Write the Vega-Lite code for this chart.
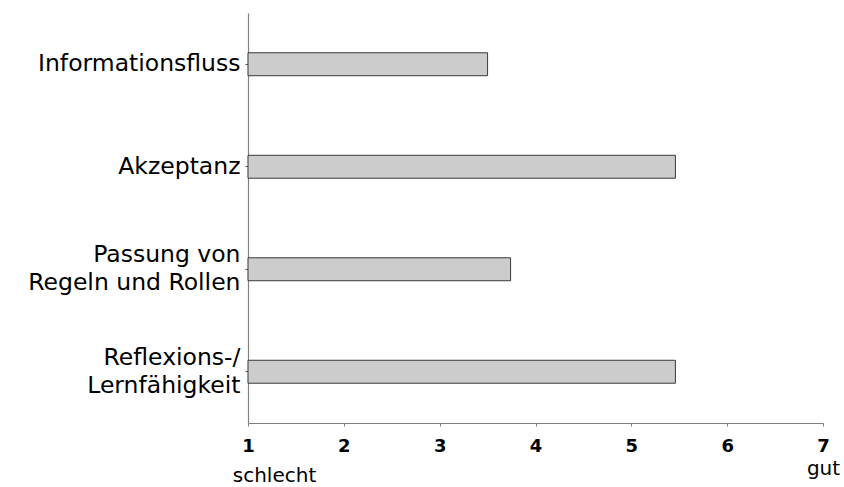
{
  "$schema": "https://vega.github.io/schema/vega-lite/v6.json",
  "autosize": {"type": "none"},
  "width": 575,
  "height": 410,
  "padding": {"left": 248, "top": 13, "right": 21, "bottom": 64},
  "background": "white",
  "config": {"view": {"stroke": null}},
  "data": {
    "values": [
      {"kriterium": "Informationsfluss", "wert": 3.5},
      {"kriterium": "Akzeptanz", "wert": 5.46},
      {"kriterium": "Passung von\nRegeln und Rollen", "wert": 3.74},
      {"kriterium": "Reflexions-/\nLernfähigkeit", "wert": 5.46}
    ]
  },
  "resolve": {"axis": {"x": "independent"}},
  "layer": [
    {
      "mark": {"type": "bar", "fill": "#cccccc", "stroke": "#3a3a3a", "strokeWidth": 1},
      "encoding": {
        "y": {
          "field": "kriterium",
          "type": "nominal",
          "sort": null,
          "scale": {"paddingInner": 0.776, "paddingOuter": 0.388},
          "axis": {
            "title": null,
            "labelExpr": "split(datum.label, '\\n')",
            "labelFont": "DejaVu Sans",
            "labelFontSize": 23.5,
            "labelLineHeight": 28,
            "labelColor": "black",
            "labelLimit": 400,
            "labelPadding": 5,
            "labelOffset": {"condition": {"test": "indexof(datum.value, '\\n') >= 0", "value": -14}, "value": 0},
            "tickSize": 3,
            "tickColor": "#555555",
            "domainColor": "#808080",
            "domainWidth": 1.2
          }
        },
        "x": {
          "field": "wert",
          "type": "quantitative",
          "scale": {"domain": [1, 7], "zero": false, "nice": false},
          "axis": {
            "orient": "bottom",
            "title": null,
            "values": [1, 2, 3, 4, 5, 6, 7],
            "grid": false,
            "labelFont": "DejaVu Sans",
            "labelFontWeight": "bold",
            "labelFontSize": 18,
            "labelColor": "black",
            "labelPadding": 11,
            "labelFlush": false,
            "tickSize": 3,
            "tickColor": "#808080",
            "domainColor": "#808080",
            "domainWidth": 1.2
          }
        },
        "x2": {"datum": 1}
      }
    },
    {
      "mark": {"type": "bar", "opacity": 0},
      "encoding": {
        "y": {"field": "kriterium", "type": "nominal", "sort": null},
        "x": {
          "field": "wert",
          "type": "quantitative",
          "axis": {
            "orient": "bottom",
            "title": null,
            "values": [1, 7],
            "labelExpr": "datum.value == 1 ? 'schlecht' : 'gut'",
            "grid": false,
            "domain": false,
            "ticks": false,
            "labelFont": "DejaVu Sans",
            "labelFontSize": 20,
            "labelColor": "black",
            "labelFlush": false,
            "labelPadding": {"condition": {"test": "datum.value == 1", "value": 42}, "value": 35},
            "labelOffset": {"condition": {"test": "datum.value == 1", "value": 26}, "value": 0}
          }
        },
        "x2": {"datum": 1}
      }
    }
  ]
}
